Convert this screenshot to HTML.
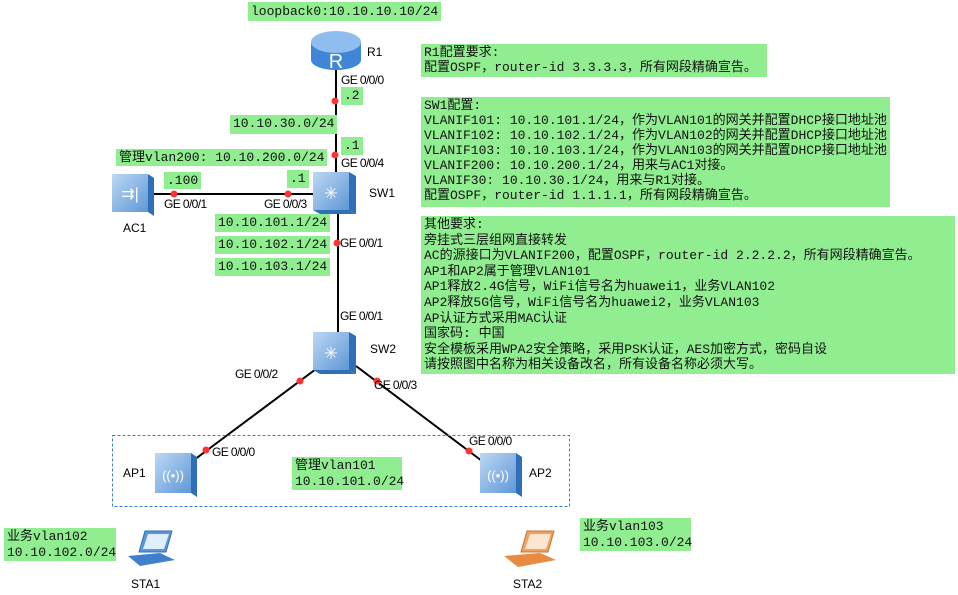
<!DOCTYPE html>
<html><head><meta charset="utf-8"><style>
body{margin:0;width:958px;height:595px;background:#fff;position:relative;overflow:hidden;font-family:"Liberation Mono","Noto Sans CJK SC",monospace;}
.g{position:absolute;background:#90ee90;font-size:13px;line-height:15.5px;color:#111;white-space:pre;padding:1px 3px;box-sizing:border-box}
.l{position:absolute;font-family:"Liberation Sans",sans-serif;font-size:12px;color:#000;letter-spacing:-0.6px}
.n{position:absolute;font-family:"Liberation Sans",sans-serif;font-size:12px;color:#000}
</style></head><body>
<svg width="958" height="595" style="position:absolute;left:0;top:0">
<defs>
<linearGradient id="bl" x1="0" y1="0" x2="1" y2="1"><stop offset="0" stop-color="#bcd8f4"/><stop offset="1" stop-color="#5f97d6"/></linearGradient>
</defs>
<g stroke="#000" stroke-width="2" fill="none">
<line x1="336" y1="70" x2="336" y2="175"/>
<line x1="338" y1="212" x2="338" y2="333"/>
<line x1="153" y1="194" x2="314" y2="194"/>
<line x1="320" y1="366" x2="194" y2="460"/>
<line x1="356" y1="366" x2="482" y2="461"/>
</g>
<rect x="112.5" y="435.5" width="457" height="71" fill="none" stroke="#3a7fd6" stroke-dasharray="3,2"/>
<g fill="#f33">
<circle cx="335" cy="101" r="3.5"/><circle cx="335" cy="155" r="3.5"/><circle cx="174" cy="194" r="3.5"/><circle cx="288" cy="194" r="3.5"/><circle cx="337" cy="243" r="3.5"/><circle cx="300" cy="381" r="3.5"/><circle cx="377" cy="381" r="3.5"/><circle cx="206" cy="450" r="3.5"/><circle cx="469" cy="451" r="3.5"/>
</g>
<path d="M311 42 v18 a25 10 0 0 0 50 0 v-18z" fill="#3f86d6"/>
<ellipse cx="336" cy="42" rx="25" ry="11" fill="#8fbdf0"/>
<text x="336" y="68" font-family="Liberation Sans" font-size="20" fill="#fff" text-anchor="middle">R</text>
<g><rect x="313" y="172" width="36" height="38" fill="url(#bl)"/><polygon points="349,172 356,176 356,214 349,210" fill="#2f6fb8"/><polygon points="313,210 349,210 356,214 320,214" fill="#2f6fb8"/><text x="331" y="199" font-size="22" fill="#fff" text-anchor="middle">✳</text></g>
<g><rect x="313" y="332" width="36" height="38" fill="url(#bl)"/><polygon points="349,332 356,336 356,374 349,370" fill="#2f6fb8"/><polygon points="313,370 349,370 356,374 320,374" fill="#2f6fb8"/><text x="331" y="359" font-size="22" fill="#fff" text-anchor="middle">✳</text></g>
<g><rect x="112" y="174" width="36" height="38" fill="url(#bl)"/><polygon points="148,174 154,178 154,216 148,212" fill="#2f6fb8"/><text x="130" y="199" font-size="16" fill="#fff" text-anchor="middle" font-family="Liberation Sans">⇉|</text></g>
<g><rect x="155" y="453" width="36" height="40" fill="url(#bl)"/><polygon points="191,453 197,457 197,497 191,493" fill="#2f6fb8"/><text x="173" y="480" font-size="13" fill="#fff" text-anchor="middle" font-family="Liberation Sans">((•))</text></g>
<g><rect x="480" y="453" width="36" height="40" fill="url(#bl)"/><polygon points="516,453 522,457 522,497 516,493" fill="#2f6fb8"/><text x="498" y="480" font-size="13" fill="#fff" text-anchor="middle" font-family="Liberation Sans">((•))</text></g>
<g><polygon points="145,531 172,531 166,552 139,552" fill="#5a96d8" stroke="#2f6fb8"/><polygon points="148,534 169,534 164,549 143,549" fill="#dfeefc"/><polygon points="128,556 160,553 175,560 140,566" fill="#3f7fcc"/></g>
<g><polygon points="527,531 554,531 548,552 521,552" fill="#f0a060" stroke="#d07030"/><polygon points="530,534 551,534 546,549 525,549" fill="#fde6cf"/><polygon points="504,556 540,553 556,560 518,567" fill="#e88a40"/></g>
</svg>
<div class="g" style="left:248px;top:2px;height:19px;line-height:17px">loopback0:10.10.10.10/24</div>
<div class="n" style="left:367px;top:45px">R1</div>
<div class="l" style="left:341px;top:73px">GE 0/0/0</div>
<div class="g" style="left:341px;top:87px;height:18px">.2</div>
<div class="g" style="left:230px;top:115px;height:19px">10.10.30.0/24</div>
<div class="g" style="left:341px;top:137px;height:18px">.1</div>
<div class="l" style="left:341px;top:156px">GE 0/0/4</div>
<div class="g" style="left:116px;top:149px;height:17px;line-height:15px">管理vlan200: 10.10.200.0/24</div>
<div class="g" style="left:164px;top:172px;height:17px">.100</div>
<div class="g" style="left:287px;top:170px;height:18px">.1</div>
<div class="n" style="left:369px;top:186px">SW1</div>
<div class="l" style="left:164px;top:197px">GE 0/0/1</div>
<div class="l" style="left:264px;top:197px">GE 0/0/3</div>
<div class="n" style="left:123px;top:221px">AC1</div>
<div class="g" style="left:215px;top:214px;height:18px">10.10.101.1/24</div>
<div class="g" style="left:215px;top:236px;height:18px">10.10.102.1/24</div>
<div class="g" style="left:215px;top:258px;height:18px">10.10.103.1/24</div>
<div class="l" style="left:340px;top:236px">GE 0/0/1</div>
<div class="l" style="left:340px;top:309px">GE 0/0/1</div>
<div class="n" style="left:370px;top:342px">SW2</div>
<div class="l" style="left:235px;top:367px">GE 0/0/2</div>
<div class="l" style="left:374px;top:378px">GE 0/0/3</div>
<div class="l" style="left:212px;top:445px">GE 0/0/0</div>
<div class="l" style="left:469px;top:434px">GE 0/0/0</div>
<div class="n" style="left:123px;top:466px">AP1</div>
<div class="n" style="left:529px;top:466px">AP2</div>
<div class="g" style="left:292px;top:457px;width:110px;height:33px">管理vlan101
10.10.101.0/24</div>
<div class="g" style="left:4px;top:528px;width:112px;height:33px">业务vlan102
10.10.102.0/24</div>
<div class="g" style="left:580px;top:518px;width:111px;height:33px">业务vlan103
10.10.103.0/24</div>
<div class="n" style="left:131px;top:577px">STA1</div>
<div class="n" style="left:513px;top:577px">STA2</div>
<div class="g" style="left:421px;top:44px;width:346px;height:33px;line-height:15px">R1配置要求:
配置OSPF，router-id 3.3.3.3，所有网段精确宣告。</div>
<div class="g" style="left:421px;top:97px;width:469px;height:110px;line-height:15px">SW1配置:
VLANIF101: 10.10.101.1/24，作为VLAN101的网关并配置DHCP接口地址池
VLANIF102: 10.10.102.1/24，作为VLAN102的网关并配置DHCP接口地址池
VLANIF103: 10.10.103.1/24，作为VLAN103的网关并配置DHCP接口地址池
VLANIF200: 10.10.200.1/24，用来与AC1对接。
VLANIF30: 10.10.30.1/24，用来与R1对接。
配置OSPF，router-id 1.1.1.1，所有网段精确宣告。</div>
<div class="g" style="left:421px;top:216px;width:534px;height:158px;line-height:15.6px">其他要求:
旁挂式三层组网直接转发
AC的源接口为VLANIF200，配置OSPF，router-id 2.2.2.2，所有网段精确宣告。
AP1和AP2属于管理VLAN101
AP1释放2.4G信号，WiFi信号名为huawei1，业务VLAN102
AP2释放5G信号，WiFi信号名为huawei2，业务VLAN103
AP认证方式采用MAC认证
国家码: 中国
安全模板采用WPA2安全策略，采用PSK认证，AES加密方式，密码自设
请按照图中名称为相关设备改名，所有设备名称必须大写。</div>
</body></html>
